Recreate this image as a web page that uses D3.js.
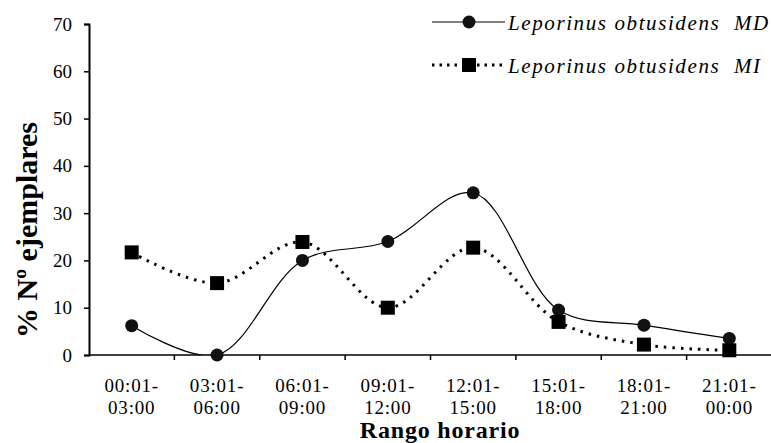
<!DOCTYPE html>
<html>
<head>
<meta charset="utf-8">
<script src="https://cdn.jsdelivr.net/npm/d3@7/dist/d3.min.js"></script>
<style>
  html, body { margin: 0; padding: 0; background: #fff; }
  svg { display: block; }
  svg text { font-family: "Liberation Serif", "Times New Roman", serif; fill: #000; }
</style>
</head>
<body>
<svg id="chart" width="771" height="443"></svg>
<script>
// Time-of-day ranges (two-line labels)
const categories = ["00:01-|03:00", "03:01-|06:00", "06:01-|09:00", "09:01-|12:00",
                    "12:01-|15:00", "15:01-|18:00", "18:01-|21:00", "21:01-|00:00"];
// % of specimens per time range
const valuesMD = [6.2, 0, 20, 24, 34.3, 9.5, 6.3, 3.5];
const valuesMI = [21.7, 15.2, 23.9, 10, 22.7, 7, 2.2, 1];
const yTicks = [0, 10, 20, 30, 40, 50, 60, 70];
const seriesNames = ["Leporinus obtusidens  MD", "Leporinus obtusidens  MI"];

const svg = d3.select("#chart");
const margin = { left: 89, right: 0, top: 24, bottom: 88 };
const W = 771, H = 443;
const x0 = margin.left, x1 = W - margin.right;
const yTop = margin.top, yBot = H - margin.bottom;

const x = d3.scaleBand().domain(d3.range(categories.length)).range([x0, x1 + 1]);
const y = d3.scaleLinear().domain([0, 70]).range([yBot, yTop]);

// Clip the smoothed lines to the plotting area
svg.append("defs").append("clipPath").attr("id", "plot")
  .append("rect").attr("x", x0).attr("y", yTop - 10).attr("width", x1 - x0).attr("height", yBot - yTop + 10);

// Y axis
const yAxis = svg.append("g").attr("transform", `translate(${x0},0)`)
  .call(d3.axisLeft(y).tickValues(yTicks).tickSize(5).tickPadding(12));
yAxis.attr("font-family", null);
yAxis.select(".domain").attr("stroke", "#000").attr("stroke-width", 2);
yAxis.selectAll(".tick line").attr("stroke", "#000").attr("stroke-width", 1.5);
yAxis.selectAll("text").style("font-size", "19px").attr("fill", "#000");

// X axis: tick marks between categories
const xg = svg.append("g");
xg.append("line").attr("x1", x0).attr("x2", x1).attr("y1", yBot).attr("y2", yBot)
  .attr("stroke", "#000").attr("stroke-width", 1.5);
xg.selectAll("line.tk").data(d3.range(1, categories.length)).join("line").attr("class", "tk")
  .attr("x1", i => x(i)).attr("x2", i => x(i))
  .attr("y1", yBot).attr("y2", yBot + 5).attr("stroke", "#000").attr("stroke-width", 1.5);
xg.selectAll("text.cat").data(categories).join("text").attr("class", "cat")
  .style("font-size", "19px").style("letter-spacing", "0.8px").attr("text-anchor", "middle")
  .each(function(d, i) {
    const parts = d.split("|");
    const t = d3.select(this);
    parts.forEach((p, k) => {
      t.append("tspan").attr("x", x(i) + x.bandwidth() / 2).attr("y", yBot + 37 + k * 22).text(p);
    });
  });

// Axis titles
svg.append("text").attr("x", 440).attr("y", 438).attr("text-anchor", "middle")
  .style("font-weight", "bold").style("font-size", "24px").style("letter-spacing", "0.8px")
  .text("Rango horario");
svg.append("text").attr("transform", "translate(37,230) rotate(-90)").attr("text-anchor", "middle")
  .style("font-weight", "bold").style("font-size", "30px").text("% Nº ejemplares");

const cx = i => x(i) + x.bandwidth() / 2;
const line = d3.line().x((d, i) => cx(i)).y(d => y(d)).curve(d3.curveCatmullRom.alpha(0.5));

// Series MD: solid smoothed line with circles
svg.append("path").datum(valuesMD).attr("d", line).attr("fill", "none")
  .attr("stroke", "#000").attr("stroke-width", 1.2).attr("clip-path", "url(#plot)");
// Series MI: dotted smoothed line with squares
svg.append("path").datum(valuesMI).attr("d", line).attr("fill", "none")
  .attr("stroke", "#000").attr("stroke-width", 3).attr("stroke-dasharray", "2.5,6")
  .attr("stroke-linecap", "butt").attr("clip-path", "url(#plot)");

svg.selectAll("circle.md").data(valuesMD).join("circle").attr("class", "md")
  .attr("cx", (d, i) => cx(i)).attr("cy", d => y(d)).attr("r", 6.5).attr("fill", "#111");
svg.selectAll("rect.mi").data(valuesMI).join("rect").attr("class", "mi")
  .attr("x", (d, i) => cx(i) - 7).attr("y", d => y(d) - 7).attr("width", 14).attr("height", 14).attr("fill", "#000");

// Legend
const leg = svg.append("g");
leg.append("line").attr("x1", 432).attr("x2", 505).attr("y1", 22).attr("y2", 22)
  .attr("stroke", "#000").attr("stroke-width", 1.2);
leg.append("circle").attr("cx", 469).attr("cy", 22).attr("r", 6.5).attr("fill", "#111");
leg.append("line").attr("x1", 432).attr("x2", 505).attr("y1", 65).attr("y2", 65)
  .attr("stroke", "#000").attr("stroke-width", 3).attr("stroke-dasharray", "2.5,5");
leg.append("rect").attr("x", 462).attr("y", 58).attr("width", 14).attr("height", 14).attr("fill", "#000");
leg.selectAll("text.lg").data(seriesNames).join("text").attr("class", "lg")
  .attr("x", 508).attr("y", (d, i) => 30 + i * 43)
  .style("font-style", "italic").style("font-size", "21px").style("letter-spacing", "1.6px")
  .style("white-space", "pre").text(d => d);
</script>
</body>
</html>
